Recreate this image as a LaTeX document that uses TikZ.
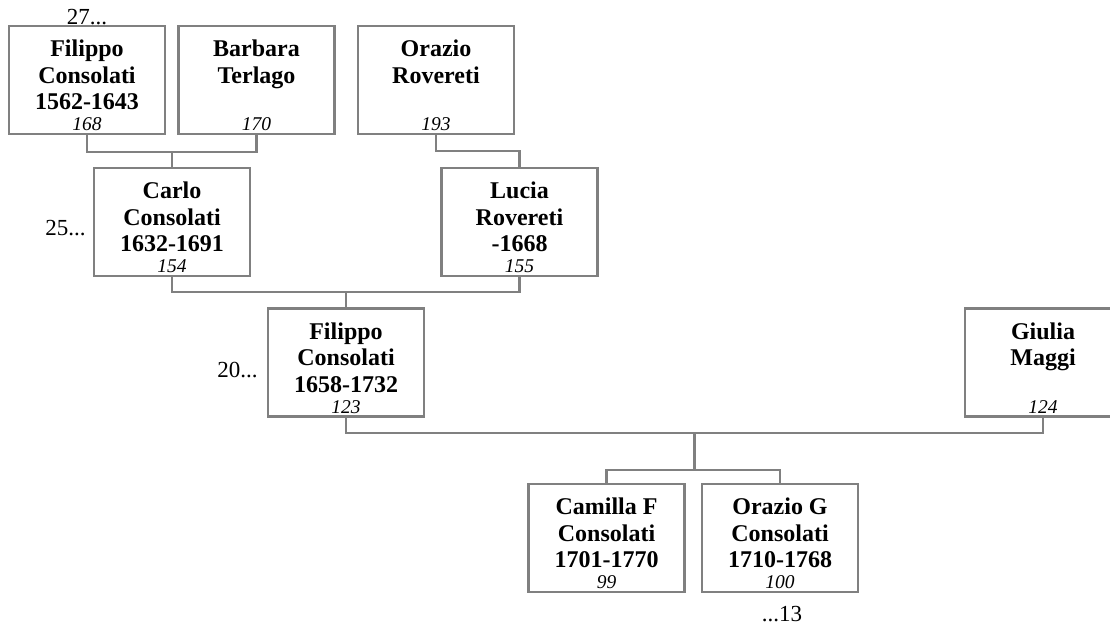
\documentclass[tikz,border=0pt]{standalone}
\usepackage{fontspec}
\setmainfont{Liberation Serif}
\usetikzlibrary{positioning}
\definecolor{boxgray}{RGB}{128,128,128}
\tikzstyle{person} = [rectangle, draw=boxgray, line width=2.5pt,
    minimum width=156pt, minimum height=108pt, inner sep=0pt]
\tikzstyle{nametext} = [anchor=north, inner sep=0pt, align=center, yshift=-15pt,
    font=\fontsize{24}{26.5}\selectfont\bfseries]
\tikzstyle{numtext} = [anchor=south, inner sep=0pt, yshift=4pt,
    font=\fontsize{19.5}{22}\selectfont\itshape]
\tikzstyle{genref} = [inner sep=0pt, font=\fontsize{23}{26}\selectfont]
\tikzstyle{line} = [draw=boxgray, line width=2.2pt]

\begin{document}
\begin{tikzpicture}[x=1pt, y=-1pt]
    \useasboundingbox (0,0) rectangle (1110,626);
    % Place nodes
    \node [person, label={[nametext]north:{Filippo\\Consolati\\1562-1643}},
        label={[numtext]south:168}] (filippoA) at (87,80) {};
    \node [person, label={[nametext]north:{Barbara\\Terlago}},
        label={[numtext]south:170}] (barbara) at (256.5,80) {};
    \node [person, label={[nametext]north:{Orazio\\Rovereti}},
        label={[numtext]south:193}] (orazioR) at (436,80) {};
    \node [person, label={[nametext]north:{Carlo\\Consolati\\1632-1691}},
        label={[numtext]south:154}] (carlo) at (172,222) {};
    \node [person, label={[nametext]north:{Lucia\\Rovereti\\-1668}},
        label={[numtext]south:155}] (lucia) at (519.5,222) {};
    \node [person, label={[nametext]north:{Filippo\\Consolati\\1658-1732}},
        label={[numtext]south:123}] (filippoB) at (346,362.5) {};
    \node [person, label={[nametext]north:{Giulia\\Maggi}},
        label={[numtext]south:124}] (giulia) at (1043,362.5) {};
    \node [person, label={[nametext]north:{Camilla F\\Consolati\\1701-1770}},
        label={[numtext]south:99}] (camilla) at (606.5,538) {};
    \node [person, label={[nametext]north:{Orazio G\\Consolati\\1710-1768}},
        label={[numtext]south:100}] (orazioG) at (780,538) {};
    % More generations
    \node [genref, anchor=base] at (filippoA.north) {27...};
    \node [genref, anchor=base east] at ([xshift=-7pt,yshift=-13pt]carlo.west) {25...};
    \node [genref, anchor=base east] at ([xshift=-9pt,yshift=-15pt]filippoB.west) {20...};
    \node [genref, anchor=base] at ([xshift=2pt,yshift=-28pt]orazioG.south) {...13};
    % Draw edges
    \coordinate (gparents) at (172,152);
    \coordinate (parents) at (346,292);
    \coordinate (couple) at (694.5,433);
    \coordinate (kids) at (694.5,470);
    \path [line] (filippoA.south) |- (gparents) -| (barbara.south);
    \path [line] (gparents) -- (carlo.north);
    \path [line] (orazioR.south) -- ++(0,16) -| (lucia.north);
    \path [line] (carlo.south) |- (parents) -| (lucia.south);
    \path [line] (parents) -- (filippoB.north);
    \path [line] (filippoB.south) |- (couple) -| (giulia.south);
    \path [line] (couple) -- (kids);
    \path [line] (camilla.north) |- (kids) -| (orazioG.north);
\end{tikzpicture}
\end{document}
